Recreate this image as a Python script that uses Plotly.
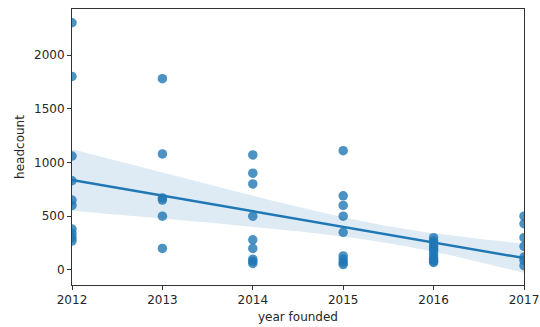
import numpy as np
import plotly.graph_objects as go

# Headcount of companies grouped by founding year
years_2012 = [2300, 1800, 1060, 830, 650, 600, 380, 340, 300, 270]
years_2013 = [1780, 1080, 670, 650, 500, 200]
years_2014 = [1070, 900, 800, 500, 280, 200, 100, 80, 60]
years_2015 = [1110, 690, 600, 500, 350, 130, 100, 70, 50]
years_2016 = [300, 270, 250, 220, 200, 180, 150, 120, 100, 80, 70]
years_2017 = [500, 430, 300, 220, 120, 90, 40]

founded = [2012, 2013, 2014, 2015, 2016, 2017]
headcounts = [years_2012, years_2013, years_2014, years_2015, years_2016, years_2017]

x = np.array([yr for yr, vals in zip(founded, headcounts) for _ in vals], dtype=float)
y = np.array([v for vals in headcounts for v in vals], dtype=float)

# Ordinary least squares fit with a robust (sandwich) 95% confidence band
X = np.column_stack([np.ones_like(x), x - 2012])
beta, *_ = np.linalg.lstsq(X, y, rcond=None)
resid = y - X @ beta
XtX_inv = np.linalg.inv(X.T @ X)
meat = X.T @ (X * (resid ** 2)[:, None])
n, k = X.shape
cov = XtX_inv @ meat @ XtX_inv * n / (n - k)

xg = np.linspace(2012, 2017, 101)
Xg = np.column_stack([np.ones_like(xg), xg - 2012])
yg = Xg @ beta
se = np.sqrt(np.einsum("ij,jk,ik->i", Xg, cov, Xg))
upper = yg + 1.96 * se
lower = yg - 1.96 * se

blue = "#1f77b4"
fig = go.Figure()
fig.add_trace(go.Scatter(
    x=np.concatenate([xg, xg[::-1]]),
    y=np.concatenate([upper, lower[::-1]]),
    fill="toself", fillcolor="rgba(31,119,180,0.15)",
    line=dict(width=0), mode="lines", hoverinfo="skip", showlegend=False,
))
fig.add_trace(go.Scatter(
    x=x, y=y, mode="markers",
    marker=dict(color=blue, opacity=0.8, size=9.5, line=dict(width=0)),
    showlegend=False,
))
fig.add_trace(go.Scatter(
    x=xg, y=yg, mode="lines",
    line=dict(color=blue, width=2.5), showlegend=False,
))

axis_common = dict(
    showgrid=False, zeroline=False, showline=True, mirror=True,
    linecolor="#333333", linewidth=1, ticks="outside", ticklen=4,
    tickcolor="#333333", tickfont=dict(family="DejaVu Sans", size=12, color="#262626"),
)
fig.update_xaxes(
    range=[2012, 2017], tickvals=founded, ticktext=[str(v) for v in founded],
    title=dict(text="year founded", font=dict(family="DejaVu Sans", size=12, color="#262626"), standoff=6),
    **axis_common,
)
fig.update_yaxes(
    range=[-140, 2428], tickvals=[0, 500, 1000, 1500, 2000],
    title=dict(text="headcount", font=dict(family="DejaVu Sans", size=12, color="#262626"), standoff=6),
    **axis_common,
)
fig.update_layout(
    autosize=True,
    margin=dict(l=72, r=16, t=9, b=42, autoexpand=False),
    paper_bgcolor="white", plot_bgcolor="white",
)
fig.write_html("out.html", default_width="100%", default_height="100vh")
